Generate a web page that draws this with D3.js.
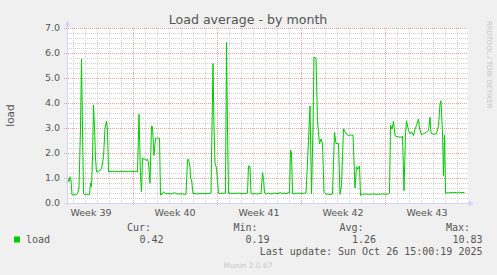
<!DOCTYPE html>
<html><head><meta charset="utf-8">
<script src="https://cdn.jsdelivr.net/npm/d3@7"></script>
<style>html,body{margin:0;padding:0;background:#f0f0f0;} svg{display:block}</style>
</head><body>
<svg id="c" width="497" height="275"></svg>
<script>
// ---- data ----
const startTime = Date.UTC(2025, 8, 23, 12, 0, 0);   // left edge of the graph
const spanHours = 800;                                // visible span
const hours = [0,2,4,6,8,10,14,18,21,24,27,29,31,33,36,39,42,45,47,49,51,53,55,57,59,63,66,69,73,76,79,81,83,86,90,94,98,102,106,110,114,118,122,126,130,134,138,141,144,147,149,151,154,157,159,161,163,166,169,171,174,177,181,185,187,190,193,196,200,204,208,212,216,218,222,226,230,234,238,241,243,246,247,249,252,256,260,264,268,272,276,280,284,288,290,292,294,296,299,303,306,310,314,317,319,321,323,326,330,334,338,342,346,350,354,358,361,363,366,368,372,376,380,384,388,391,393,395,398,402,406,410,414,418,422,426,430,434,438,442,445,447,449,451,454,458,462,466,470,474,478,481,483,486,489,492,494,498,501,505,508,511,514,518,522,526,531,535,538,543,546,549,553,556,559,563,566,569,572,576,579,582,585,587,590,594,598,602,606,610,614,618,622,626,630,634,638,642,645,647,650,653,656,660,664,669,671,674,677,679,683,686,689,693,696,699,703,705,709,713,716,719,723,726,728,733,736,739,743,746,748,751,753,755,757,760,764,768,772,776,780,784,788,792,795];
const load = [0.79,0.95,0.85,1.05,0.92,0.32,0.33,0.32,0.37,0.6,3.0,5.75,3.0,0.37,0.33,0.36,0.32,0.34,0.79,0.65,1.8,3.92,3.05,1.8,1.25,1.25,1.32,1.36,1.85,2.99,3.28,2.9,1.25,1.27,1.25,1.28,1.25,1.27,1.25,1.28,1.25,1.27,1.26,1.28,1.25,1.27,1.26,1.25,3.55,1.05,0.45,1.79,1.75,1.77,1.7,1.75,1.6,0.79,3.08,3.05,1.9,2.59,2.6,2.59,0.32,0.35,0.45,0.38,0.37,0.38,0.36,0.38,0.42,0.36,0.37,0.36,0.37,0.35,0.35,1.72,1.76,1.44,0.97,0.95,0.37,0.38,0.36,0.38,0.37,0.38,0.37,0.38,0.37,0.4,3.0,5.58,3.0,1.59,1.39,0.39,0.38,0.4,0.38,0.4,6.42,3.0,0.38,0.4,0.37,0.39,0.38,0.4,0.38,0.37,0.39,0.38,0.4,1.48,1.45,0.38,0.36,0.38,0.36,0.38,0.37,1.21,0.97,0.4,0.36,0.4,0.37,0.36,0.4,0.38,0.37,0.42,0.38,0.4,0.37,0.41,0.4,2.12,2.0,0.38,0.36,0.4,0.38,0.4,0.37,0.39,0.4,1.65,2.5,3.88,0.37,3.0,5.83,5.79,3.29,2.36,2.56,2.39,0.43,0.35,0.36,0.34,0.36,2.82,2.38,2.38,0.35,0.7,2.97,2.86,2.75,2.7,2.72,2.71,2.72,0.6,1.45,1.35,1.48,0.3,0.36,0.35,0.37,0.34,0.36,0.35,0.37,0.34,0.36,0.35,0.37,0.36,0.35,0.36,0.4,3.12,2.95,3.27,2.69,2.65,2.64,2.63,2.68,0.49,2.8,3.29,2.9,2.77,2.85,2.7,2.95,3.1,3.36,3.0,2.72,2.78,2.8,2.85,2.9,3.43,2.8,2.74,2.76,2.78,3.09,3.96,4.09,2.8,1.09,2.72,0.39,0.41,0.4,0.42,0.41,0.43,0.4,0.44,0.41,0.42,0.42];
const yTicks = [0,1,2,3,4,5,6,7];
const yMax = 7;
const title = "Load average - by month";
const yLabel = "load";
const seriesName = "load";
const legendHeaders = ["Cur:", "Min:", "Avg:", "Max:"];
const legendValues = ["0.42", "0.19", "1.26", "10.83"];
const lastUpdate = "Last update: Sun Oct 26 15:00:19 2025";
const footer = "Munin 2.0.67";
const watermark = "RRDTOOL / TOBI OETIKER";

// ---- layout ----
const L = 67, R = 467, T = 28, B = 203;
const svg = d3.select("#c");
const FONT = "'DejaVu Sans', Verdana, sans-serif";
const MONO = "'DejaVu Sans Mono', monospace";
const txt = "#555555";

const x = d3.scaleUtc().domain([startTime, startTime + spanHours*3600e3]).range([L, R]);
const y = d3.scaleLinear().domain([0, yMax]).range([B, T]);
const data = hours.map((h, i) => ({t: new Date(startTime + h*3600e3), v: load[i]}));

svg.append("rect").attr("width", 497).attr("height", 275).attr("fill", "#f0f0f0");
svg.append("rect").attr("x", L).attr("y", T).attr("width", R - L + 1).attr("height", B - T).attr("fill", "#ffffff");

const grid = svg.append("g").attr("fill", "none").attr("stroke-width", 1).attr("stroke-dasharray", "1,1");
// minor horizontal
const minorY = d3.range(0, yMax*5 + 1).map(k => k/5).filter(v => Math.abs(v - Math.round(v)) > 1e-6);
grid.selectAll(".mh").data(minorY).join("line")
  .attr("x1", L).attr("x2", R + 1)
  .attr("y1", d => Math.round(y(d)) + 0.5).attr("y2", d => Math.round(y(d)) + 0.5)
  .attr("stroke", "#d0d0d0");
// minor vertical (days)
const days = d3.utcDay.range(x.domain()[0], x.domain()[1]).filter(d => d.getUTCDay() !== 1);
grid.selectAll(".mv").data(days).join("line")
  .attr("x1", d => Math.round(x(d)) + 0.5).attr("x2", d => Math.round(x(d)) + 0.5)
  .attr("y1", T).attr("y2", B)
  .attr("stroke", "#d0d0d0");
// major horizontal
grid.selectAll(".Mh").data(yTicks).join("line")
  .attr("x1", L - 3).attr("x2", R + 1)
  .attr("y1", d => Math.round(y(d)) + 0.5).attr("y2", d => Math.round(y(d)) + 0.5)
  .attr("stroke", "#e8a0a0");
// major vertical (weeks)
const weeks = d3.utcMonday.range(x.domain()[0], x.domain()[1]);
grid.selectAll(".Mv").data(weeks).join("line")
  .attr("x1", d => Math.round(x(d)) + 0.5).attr("x2", d => Math.round(x(d)) + 0.5)
  .attr("y1", T).attr("y2", B + 3)
  .attr("stroke", "#e8a0a0");

// series line
const line = d3.line().x(d => x(d.t)).y(d => y(d.v));
svg.append("path").datum(data).attr("d", line)
  .attr("fill", "none").attr("stroke", "#00cc00").attr("stroke-width", 1);

// axes
const axisC = "#cfd6f8";
svg.append("line").attr("x1", L + 0.5).attr("x2", L + 0.5).attr("y1", B + 3).attr("y2", 24).attr("stroke", axisC);
svg.append("line").attr("x1", L - 3).attr("x2", R + 3).attr("y1", B + 0.5).attr("y2", B + 0.5).attr("stroke", axisC);
svg.append("path").attr("d", `M${L-2.5},${26.5}L${L+3.5},${26.5}L${L+0.5},${20.5}Z`).attr("fill", axisC);
svg.append("path").attr("d", `M${R+1.5},${B-2.5}L${R+1.5},${B+3.5}L${R+7},${B+0.5}Z`).attr("fill", axisC);

// y tick labels
svg.append("g").selectAll("text").data(yTicks).join("text")
  .attr("x", 60).attr("y", d => y(d) + 3.4)
  .attr("text-anchor", "end").attr("font-family", FONT).attr("font-size", 9.5).attr("fill", txt)
  .text(d => d3.format(".1f")(d));

// x labels, centered in each week
const fmtWeek = d3.utcFormat("%V");
const labelWeeks = d3.utcMonday.range(d3.utcMonday.floor(x.domain()[0]), x.domain()[1])
  .map(d => new Date(+d + 3.5*864e5))
  .filter(d => x(d) > L + 10 && x(d) < R - 10);
svg.append("g").selectAll("text").data(labelWeeks).join("text")
  .attr("x", d => x(d)).attr("y", 216)
  .attr("text-anchor", "middle").attr("font-family", FONT).attr("font-size", 9.5).attr("fill", txt)
  .text(d => "Week " + (+fmtWeek(d)));

// title
svg.append("text").attr("x", 248).attr("y", 23.5).attr("text-anchor", "middle")
  .attr("font-family", FONT).attr("font-size", 12.6).attr("fill", txt).text(title);

// y label
svg.append("text").attr("transform", `translate(14,${(T+B)/2}) rotate(-90)`)
  .attr("text-anchor", "middle").attr("font-family", FONT).attr("font-size", 10.5).attr("fill", txt).text(yLabel);

// watermark
svg.append("text").attr("transform", "translate(486.5,21) rotate(90)")
  .attr("font-family", FONT).attr("font-size", 6.8).attr("fill", "#c4c4c4").text(watermark);

// legend
const headX = [127, 233.5, 339.5, 446];
const valX = [163.5, 269.5, 376, 482.5];
svg.append("g").selectAll("text").data(legendHeaders).join("text")
  .attr("x", (d, i) => headX[i]).attr("y", 231)
  .attr("font-family", MONO).attr("font-size", 10).attr("fill", txt).text(d => d);
svg.append("g").selectAll("text").data(legendValues).join("text")
  .attr("x", (d, i) => valX[i]).attr("y", 243).attr("text-anchor", "end")
  .attr("font-family", MONO).attr("font-size", 10).attr("fill", txt).text(d => d);
svg.append("rect").attr("x", 14).attr("y", 236.5).attr("width", 6).attr("height", 6).attr("fill", "#00cc00");
svg.append("text").attr("x", 26).attr("y", 243)
  .attr("font-family", MONO).attr("font-size", 10).attr("fill", txt).text(seriesName);
svg.append("text").attr("x", 482.5).attr("y", 255).attr("text-anchor", "end")
  .attr("font-family", MONO).attr("font-size", 10).attr("fill", txt).text(lastUpdate);
svg.append("text").attr("x", 248).attr("y", 267.5).attr("text-anchor", "middle")
  .attr("font-family", FONT).attr("font-size", 7.5).attr("fill", "#c8c8c8").text(footer);
</script>
</body></html>
